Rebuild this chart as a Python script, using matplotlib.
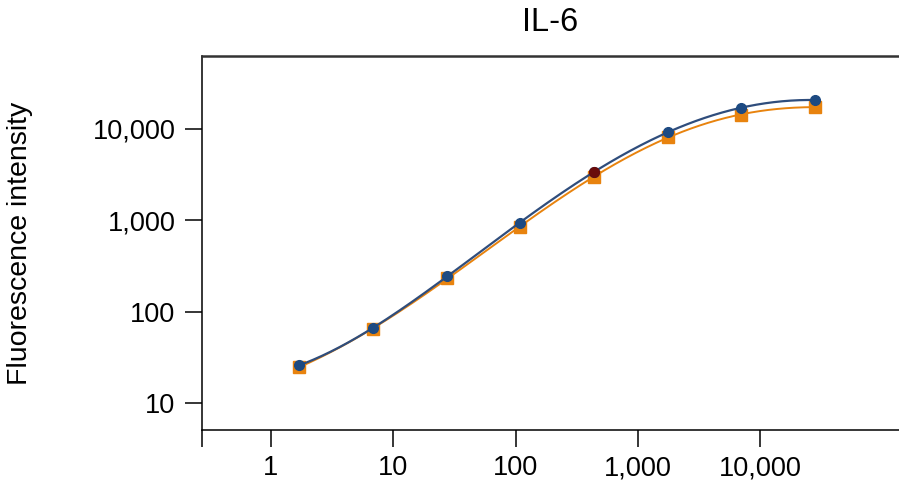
import matplotlib.pyplot as plt
import numpy as np

plt.rcParams['font.family'] = ['Liberation Sans', 'DejaVu Sans']

# standard concentrations (4-fold dilutions)
conc = [1.71, 6.84, 27.3, 109, 437, 1750, 7000, 28000]
series_a = [26, 66, 246, 935, 3390, 9290, 17000, 20800]   # blue circles
series_b = [24.8, 65, 233, 847, 2990, 8190, 14300, 17400]  # orange squares
highlight_idx = 4  # dark red point on series A

xticks = [1, 10, 100, 1000, 10000]
xlabels = ['1', '10', '100', '1,000', '10,000']
yticks = [10, 100, 1000, 10000]
ylabels = ['10', '100', '1,000', '10,000']

blue = '#1d4a82'
blue_line = '#2f4d7c'
orange = '#e8830e'
dark_red = '#6a0b0b'


def smooth(x, y, deg=5):
    lx, ly = np.log10(x), np.log10(y)
    p = np.polyfit(lx, ly, deg)
    xs = np.linspace(lx[0], lx[-1], 300)
    return 10 ** xs, 10 ** np.polyval(p, xs)


fig = plt.figure(figsize=(8.99, 4.83), dpi=100)
ax = fig.add_axes([0.2247, 0.1097, 0.7753, 0.7744])
ax.set_xscale('log')
ax.set_yscale('log')
xmin, xmax = 0.273, 136000
ax.set_xlim(xmin, xmax)
ax.set_ylim(5.06, 63000)

xb, yb = smooth(conc, series_b)
xa, ya = smooth(conc, series_a)
ax.plot(xb, yb, color=orange, lw=1.4, zorder=2)
ax.plot(conc, series_b, 's', color=orange, ms=8, zorder=3)
ax.plot(xa, ya, color=blue_line, lw=1.6, zorder=4)
ax.plot(conc, series_a, 'o', color=blue, ms=7, zorder=5)
ax.plot(conc[highlight_idx], series_a[highlight_idx], 'o', color=dark_red, ms=7, zorder=6)

ax.set_xticks([xmin] + xticks)
ax.set_xticklabels([''] + xlabels)
ax.set_yticks(yticks)
ax.set_yticklabels(ylabels)
ax.minorticks_off()
ax.tick_params(axis='both', direction='out', length=12, width=1.1, labelsize=19.5)
ax.tick_params(axis='x', pad=6)
ax.tick_params(axis='y', pad=7)

ax.spines['right'].set_visible(False)
for s in ['left', 'bottom']:
    ax.spines[s].set_linewidth(1.1)
ax.spines['top'].set_linewidth(1.8)
ax.spines['top'].set_color('#333333')

ax.set_title('IL-6', fontsize=23.5, pad=18)
ax.set_ylabel('Fluorescence intensity', fontsize=20.5)
ax.yaxis.set_label_coords(-0.243, 0.5)

fig.savefig('out.png', dpi=100)
